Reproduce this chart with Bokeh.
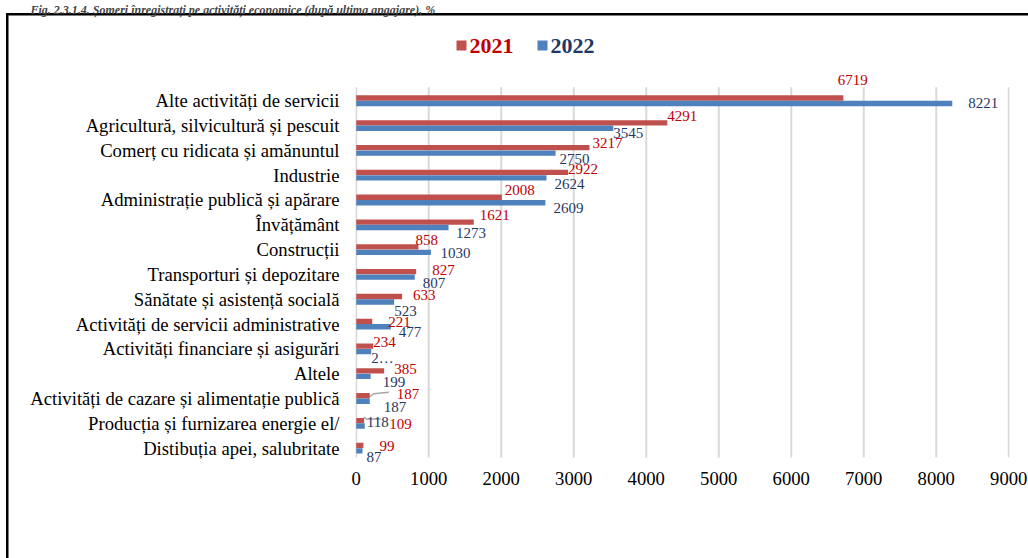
from bokeh.plotting import figure
from bokeh.models import ColumnDataSource, Range1d, Label, LabelSet, BoxAnnotation, FixedTicker
from bokeh.transform import dodge
from bokeh.embed import file_html
from bokeh.resources import INLINE

categories = [
    "Alte activități de servicii",
    "Agricultură, silvicultură și pescuit",
    "Comerț cu ridicata și amănuntul",
    "Industrie",
    "Administrație publică și apărare",
    "Învățământ",
    "Construcții",
    "Transporturi și depozitare",
    "Sănătate și asistență socială",
    "Activități de servicii administrative",
    "Activități financiare și asigurări",
    "Altele",
    "Activități de cazare și alimentație publică",
    "Producția și furnizarea energie el/",
    "Distibuția apei, salubritate",
]
values_2021 = [6719, 4291, 3217, 2922, 2008, 1621, 858, 827, 633, 221, 234, 385, 187, 109, 99]
values_2022 = [8221, 3545, 2750, 2624, 2609, 1273, 1030, 807, 523, 477, 207, 199, 187, 118, 87]
labels_2021 = [str(v) for v in values_2021]
labels_2022 = [str(v) for v in values_2022]
labels_2022[10] = "2…"
x_ticks = [0, 1000, 2000, 3000, 4000, 5000, 6000, 7000, 8000, 9000]
series_names = ["2021", "2022"]
title_text = "Fig. 2.3.1.4. Șomeri înregistrați pe activități economice (după ultima angajare), %"

# label placement (pixel offsets from bar end / bar centre; positive dy = down)
dx_2021 = [-5.7, 0, 3, 0, 3, 6, -3, 16, 11, 16, 0, 10, 27, 25, 16]
dy_2021 = [-18.5, -6.5, -4.6, -3.7, -7.7, -6.8, -6.6, -1.5, -1.3, 0.5, -3.7, -1.8, -1.7, 3.5, 0.4]
dx_2022 = [16, 0, 4, 8, 8, 7.5, 9.5, 8, 0, 8, 0, 12, 14, 2, 4]
dy_2022 = [0, 5, 5.5, 6.4, 5.2, 5.4, 0.6, 5.7, 9, 5.6, 6.8, 5.4, 5.5, -3.7, 5.9]
# leader lines: (category index, series, pixel path relative to bar end / bar centre)
leaders = [(12, 0, [(0, 1), (4, -2), (19, -3.5)]),
           (13, 1, [(-1, -9), (2, -7), (16, -7)])]

RED = "#C0504D"
BLUE = "#4F81BD"
RED_TXT = "#C00000"
BLUE_TXT = "#1F3864"
GRID = "#D9D9D9"
FONT = "Liberation Serif"

n = len(categories)
ypos = [n - 1 - i for i in range(n)]          # first category on top

src = ColumnDataSource(dict(y=ypos, v21=values_2021, v22=values_2022,
                            l21=labels_2021, l22=labels_2022,
                            dx21=dx_2021, up21=[-d for d in dy_2021],
                            dx22=dx_2022, up22=[-d for d in dy_2022]))

W, H = 1028, 558
FL, FR, FT, FB = 355, 1009, 15, 470      # frame edges (canvas px)
X0, X1 = -10, 9010
BAND = 24.8667                           # px per category
CAT_BOTTOM = 460                         # px of the lower edge of the last band
y_start = -0.5 - (FB - CAT_BOTTOM) / BAND
y_end = -0.5 + (CAT_BOTTOM - FT) / BAND
XPX = (X1 - X0) / (FR - FL)              # data units per pixel
DODGE = 0.11

p = figure(width=W, height=H, x_range=Range1d(X0, X1), y_range=Range1d(y_start, y_end),
           output_backend="svg", toolbar_location=None,
           min_border_left=FL, min_border_right=W - FR, min_border_top=FT, min_border_bottom=H - FB)

# vertical gridlines (only across the category area)
p.segment(x0=x_ticks, x1=x_ticks, y0=[-0.38] * len(x_ticks), y1=[n - 0.46] * len(x_ticks),
          line_color=GRID, line_width=2)

p.hbar(y=dodge("y", DODGE), left=0, right="v21", height=0.215,
       fill_color=RED, line_color=None, source=src)
p.hbar(y=dodge("y", -DODGE), left=0, right="v22", height=0.215,
       fill_color=BLUE, line_color=None, source=src)

# leader lines from bars to displaced labels
lx, ly = [], []
for idx, s, path in leaders:
    v = (values_2021 if s == 0 else values_2022)[idx]
    yc = ypos[idx] + (DODGE if s == 0 else -DODGE)
    lx.append([v + dx * XPX for dx, dy in path])
    ly.append([yc - dy / BAND for dx, dy in path])
p.multi_line(xs=lx, ys=ly, line_color="#A6A6A6", line_width=1.5)

p.add_layout(LabelSet(x="v21", y=dodge("y", DODGE), text="l21",
                      x_offset="dx21", y_offset="up21", text_font=FONT, text_font_size="15px",
                      text_color=RED_TXT, text_baseline="middle", text_align="left", source=src))
p.add_layout(LabelSet(x="v22", y=dodge("y", -DODGE), text="l22",
                      x_offset="dx22", y_offset="up22", text_font=FONT, text_font_size="15px",
                      text_color=BLUE_TXT, text_baseline="middle", text_align="left", source=src))

p.outline_line_color = None
p.background_fill_color = None
p.border_fill_color = None
p.grid.visible = False
p.xaxis.ticker = FixedTicker(ticks=x_ticks)
p.yaxis.ticker = FixedTicker(ticks=ypos)
p.yaxis.major_label_overrides = {y: c for y, c in zip(ypos, categories)}

for ax in (p.xaxis, p.yaxis):
    ax.axis_line_color = None
    ax.major_tick_line_color = None
    ax.minor_tick_line_color = None
    ax.major_tick_out = 0
    ax.major_tick_in = 0
    ax.major_label_text_font = FONT
    ax.major_label_text_font_size = "18.67px"
    ax.major_label_text_color = "black"
p.yaxis.major_label_standoff = 16
p.xaxis.major_label_standoff = 1

# title
p.title.text = title_text
p.title.text_font = FONT
p.title.text_font_style = "bold italic"
p.title.text_font_size = "12px"
p.title.align = "left"
p.title.offset = -325
p.title.standoff = 0

# chart box (left and top edges visible) drawn behind the transparent canvas
p.styles = {"background": "linear-gradient(#000, #000) 6px 13px / 2.5px 700px no-repeat, "
                          "linear-gradient(#000, #000) 6px 13px / 1200px 2.5px no-repeat, #ffffff"}


def sx(px):
    return px - FL


def sy(py):
    return FB - py


# legend
for name, col, tcol, x0 in ((series_names[0], RED, RED_TXT, 456), (series_names[1], BLUE, BLUE_TXT, 537)):
    p.add_layout(BoxAnnotation(left=sx(x0), right=sx(x0 + 10), top=sy(40), bottom=sy(50),
                               left_units="screen", right_units="screen",
                               top_units="screen", bottom_units="screen",
                               fill_color=col, fill_alpha=1, line_color=None))
    p.add_layout(Label(x=sx(x0 + 13), y=sy(45), x_units="screen", y_units="screen", text=name,
                       text_font=FONT, text_font_style="bold", text_font_size="22px",
                       text_color=tcol, text_baseline="middle"))

open("out.html", "w").write(file_html(p, INLINE))
